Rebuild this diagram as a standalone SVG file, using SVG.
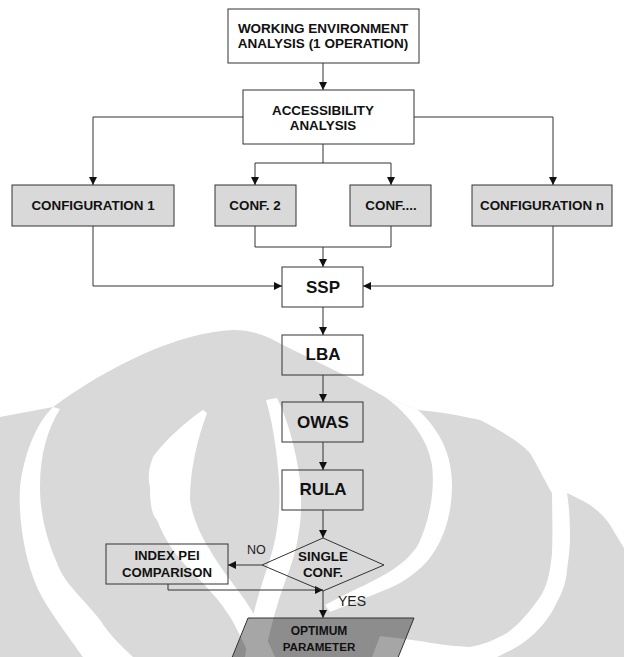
<svg xmlns="http://www.w3.org/2000/svg" width="624" height="657" viewBox="0 0 624 657">
<style>
.box{stroke:#333;stroke-width:1;fill:#fff}
.clear{stroke:#333;stroke-width:1;fill:none}
.conf{stroke:#333;stroke-width:1;fill:#d9d9d9}
.t{font-family:"Liberation Sans",Arial,sans-serif;font-weight:bold;fill:#111;text-anchor:middle}
.r{font-family:"Liberation Sans",Arial,sans-serif;fill:#222}
.c{stroke:#333;stroke-width:1;fill:none}
.w{fill:#fff}
</style>
<defs>
<marker id="ah" viewBox="0 0 10 10" refX="10" refY="5" markerWidth="8" markerHeight="8" markerUnits="userSpaceOnUse" orient="auto"><path d="M0,0 L10,5 L0,10 Z" fill="#111"/></marker>
</defs>
<rect width="624" height="657" fill="#fff"/>
<g id="watermark">
<path fill="#d9d9d9" d="M0,417 L53,407 C110,365 180,332 233,330 C255,330 270,338 283,345 L340,373 C360,382 372,390 385,397 L418,410 C445,412 470,418 480,420 C500,430 520,442 530,453 C540,470 547,485 552,493 L567,493 C575,497 582,500 590,505 C600,512 608,520 613,530 L624,548 L624,657 L0,657 Z"/>
<path class="w" d="M53,407 C35,425 24,455 20,487 C18,520 25,560 37,587 C45,605 60,625 83,657 L133,657 C120,645 110,635 100,620 C85,600 65,585 57,563 C47,540 40,515 40,487 C40,455 47,430 60,409 Z"/>
<path class="w" d="M203,410 C188,420 165,440 153,457 C148,470 148,480 150,487 C150,505 152,515 157,520 C165,540 175,555 190,570 C205,585 220,600 232,620 C240,635 245,645 250,657 L275,657 C268,640 258,620 245,600 C232,582 218,565 210,550 C200,535 192,515 190,500 C190,470 197,440 207,413 Z"/>
<path class="w" d="M266,400 C272,420 277,450 279,480 C281,510 277,540 268,565 C260,590 250,620 245,657 L265,657 C270,625 280,595 290,568 C300,540 303,510 300,480 C296,450 288,420 277,398 Z"/>
<path class="w" d="M385,397 C410,415 428,440 432,465 C435,490 430,520 418,545 C405,565 385,575 365,585 C350,592 338,598 325,605 L330,612 C345,606 360,600 380,592 C400,585 420,572 432,555 C446,535 452,510 452,485 C452,455 440,430 418,410 Z"/>
<path class="w" d="M552,493 C552,510 553,530 552,553 C550,575 546,588 540,597 C530,612 518,625 507,633 C495,640 482,645 470,647 C450,646 430,643 420,641 L380,636 L372,657 L497,657 C505,653 512,650 520,645 C535,635 546,622 553,610 C561,595 566,585 567,570 C569,555 570,545 570,537 C570,520 569,505 567,493 Z"/>
</g>
<g id="connectors">
<path class="c" d="M323,63 V90" marker-end="url(#ah)"/>
<path class="c" d="M243,117 H93 V185" marker-end="url(#ah)"/>
<path class="c" d="M414,117 H553 V185" marker-end="url(#ah)"/>
<path class="c" d="M323,144 V163 H255 V185" marker-end="url(#ah)"/>
<path class="c" d="M323,163 H391 V185" marker-end="url(#ah)"/>
<path class="c" d="M255,226 V247 H391 V226"/>
<path class="c" d="M323,247 V267" marker-end="url(#ah)"/>
<path class="c" d="M93,226 V286 H282" marker-end="url(#ah)"/>
<path class="c" d="M553,226 V286 H363" marker-end="url(#ah)"/>
<path class="c" d="M323,307 V335" marker-end="url(#ah)"/>
<path class="c" d="M323,375 V402" marker-end="url(#ah)"/>
<path class="c" d="M323,442 V470" marker-end="url(#ah)"/>
<path class="c" d="M323,510 V538" marker-end="url(#ah)"/>
<path class="c" d="M262,565 H228" marker-end="url(#ah)"/>
<path class="c" d="M168,584 V590 H323" marker-end="url(#ah)"/>
<path class="c" d="M323,591 V618" marker-end="url(#ah)"/>
<text class="r" x="247" y="554" font-size="12.5">NO</text>
<text class="r" x="338" y="606" font-size="14">YES</text>
</g>
<g id="working-env">
<rect class="box" x="228" y="9" width="191" height="54"/>
<text class="t" x="323" y="33" font-size="13.5">WORKING ENVIRONMENT</text>
<text class="t" x="323" y="48" font-size="13.5">ANALYSIS (1 OPERATION)</text>
</g>
<g id="accessibility">
<rect class="box" x="243" y="90" width="171" height="54"/>
<text class="t" x="323" y="115" font-size="13.4">ACCESSIBILITY</text>
<text class="t" x="323" y="130" font-size="13.4">ANALYSIS</text>
</g>
<g id="config1">
<rect class="conf" x="12" y="185" width="162" height="41"/>
<text class="t" x="93" y="210" font-size="13.4">CONFIGURATION 1</text>
</g>
<g id="conf2">
<rect class="conf" x="215" y="185" width="81" height="41"/>
<text class="t" x="255" y="210" font-size="13.4">CONF. 2</text>
</g>
<g id="confdots">
<rect class="conf" x="350" y="185" width="81" height="41"/>
<text class="t" x="391" y="210" font-size="13.4">CONF....</text>
</g>
<g id="confign">
<rect class="conf" x="472" y="185" width="140" height="41"/>
<text class="t" x="542" y="210" font-size="13.4">CONFIGURATION n</text>
</g>
<g id="ssp">
<rect class="clear" x="282" y="267" width="81" height="40"/>
<text class="t" x="323" y="293" font-size="17">SSP</text>
</g>
<g id="lba">
<rect class="clear" x="282" y="335" width="81" height="40"/>
<text class="t" x="323" y="360" font-size="17">LBA</text>
</g>
<g id="owas">
<rect class="clear" x="282" y="402" width="81" height="40"/>
<text class="t" x="323" y="428" font-size="17">OWAS</text>
</g>
<g id="rula">
<rect class="clear" x="282" y="470" width="81" height="40"/>
<text class="t" x="323" y="495" font-size="17">RULA</text>
</g>
<g id="single-conf">
<path class="clear" d="M323,538 L384,565 L323,591 L262,565 Z"/>
<text class="t" x="323" y="561" font-size="13.4">SINGLE</text>
<text class="t" x="323" y="577" font-size="13.4">CONF.</text>
</g>
<g id="index-pei">
<rect class="clear" x="106" y="544" width="122" height="40"/>
<text class="t" x="167" y="560" font-size="13.2">INDEX PEI</text>
<text class="t" x="167" y="577" font-size="13.2">COMPARISON</text>
</g>
<g id="optimum">
<path d="M248,618 L414,618 L393,670 L227,670 Z" fill="#000" fill-opacity="0.35" stroke="#333" stroke-width="1"/>
<text class="t" x="319" y="635" font-size="12">OPTIMUM</text>
<text class="t" x="319" y="651" font-size="11.6">PARAMETER</text>
</g>
</svg>
